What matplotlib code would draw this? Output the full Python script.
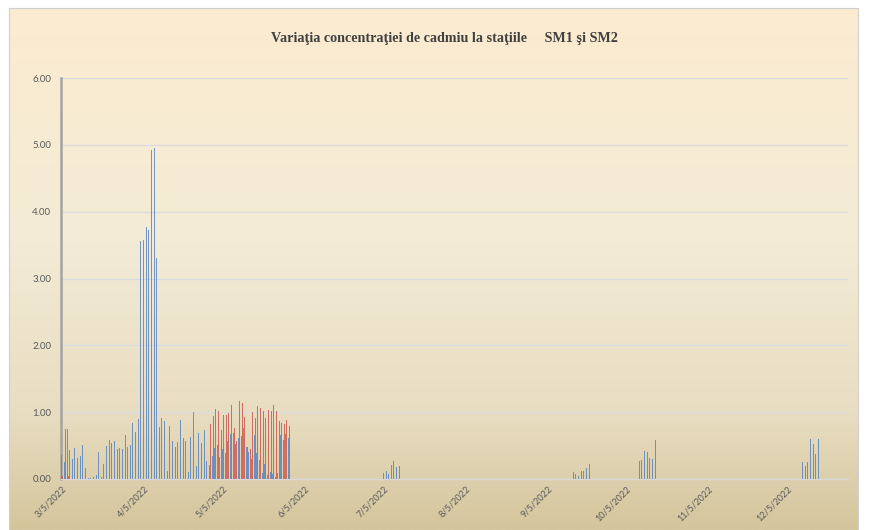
import numpy as np
import pandas as pd
import matplotlib
matplotlib.use('Agg')
import matplotlib.pyplot as plt
import matplotlib.dates as mdates
from matplotlib.ticker import FuncFormatter

TITLE = 'Variaţia concentraţiei de cadmiu la staţiile     SM1 şi SM2'

# SM1 (albastru) - valori zilnice
SM1_SPRING_START = '2022-03-05'
SM1_SPRING = [0.36, 0.26, 0.75, 0.44, 0.30, 0.46, 0.31, 0.345, 0.51, 0.16,
              0.01, 0.01, 0.035, 0.055, 0.41, 0.025, 0.22, 0.50, 0.585, 0.545,
              0.57, 0.45, 0.47, 0.45, 0.66, 0.48, 0.51, 0.835, 0.71, 0.90,
              3.565, 3.58, 3.77, 3.73, 4.93, 4.95, 3.30,
              0.775, 0.91, 0.875, 0.125, 0.80, 0.575, 0.475, 0.55, 0.885, 0.61,
              0.57, 0.11, 0.625, 1.00, 0.20, 0.685, 0.545, 0.735, 0.27, 0.21,
              0.345, 0.46, 0.51,
              0.335, 0.45, 0.385, 0.575, 0.67, 0.695, 0.52, 0.62, 0.645, 0.76,
              0.485, 0.40, 0.295, 0.66, 0.385, 0.285, 0.095, 0.22, 0.06, 0.11,
              0.075, 0.035, 0.085, 0.66, 0.585, 0.67, 0.62]
SM1_JUL_START = '2022-07-05'
SM1_JUL = [0.09, 0.12, 0.075, 0.21, 0.27, 0.185, 0.195]
SM1_SEP_START = '2022-09-15'
SM1_SEP = [0.11, 0.075, 0.045, 0.125, 0.125, 0.17, 0.225]
SM1_OCT_START = '2022-10-10'
SM1_OCT = [0.27, 0.285, 0.42, 0.405, 0.32, 0.30, 0.585]
SM1_DEC_START = '2022-12-11'
SM1_DEC = [0.25, 0.195, 0.26, 0.60, 0.525, 0.37, 0.60]

# SM2 (rosu)
SM2_MAR_START = '2022-03-05'
SM2_MAR = [0.05, 0.75, 0.05]
SM2_MAY_START = '2022-04-30'
SM2_MAY = [0.825, 0.95, 1.05, 1.01,
           0.735, 0.96, 0.96, 0.985, 1.11, 0.76, 0.57, 1.17, 1.135, 0.925,
           0.485, 0.445, 1.0, 0.91, 1.085, 1.06, 1.02, 0.92, 1.035, 1.01,
           1.10, 1.02, 0.87, 0.835, 0.82, 0.88, 0.795]

X_MIN = '2022-03-05'
X_MAX = '2022-12-28'
Y_TICKS = [0, 1, 2, 3, 4, 5, 6]


def daily(start, values):
    days = mdates.date2num(pd.date_range(start, periods=len(values), freq='D'))
    return days, np.array(values)


def gradient_bg(fig):
    stops = [(0.0, (252, 236, 208)), (0.45, (243, 235, 214)),
             (0.78, (232, 221, 193)), (1.0, (212, 197, 156))]
    pos = np.linspace(0, 1, 256)
    cols = np.zeros((256, 1, 3))
    for c in range(3):
        cols[:, 0, c] = np.interp(pos, [s[0] for s in stops], [s[1][c] for s in stops]) / 255
    bg = fig.add_axes([9 / 869, 0, 849 / 869, 522 / 530], zorder=-1)
    bg.imshow(cols, aspect='auto', extent=[0, 1, 0, 1])
    bg.set_xticks([])
    bg.set_yticks([])
    for s in bg.spines.values():
        s.set_color('#d0d0d0')
        s.set_linewidth(0.8)


def main():
    fig = plt.figure(figsize=(8.69, 5.30), dpi=100)
    gradient_bg(fig)

    ax = fig.add_axes([61 / 869, 1 - 479 / 530, (848 - 61) / 869, (479 - 78) / 530])
    ax.set_facecolor('none')

    blue = '#5a86c2'
    red = '#cc5a52'
    w = 0.38
    for start, vals in [(SM1_SPRING_START, SM1_SPRING), (SM1_JUL_START, SM1_JUL),
                        (SM1_SEP_START, SM1_SEP), (SM1_OCT_START, SM1_OCT),
                        (SM1_DEC_START, SM1_DEC)]:
        d, v = daily(start, vals)
        ax.bar(d - 0.2, v, width=w, color=blue, alpha=0.85, linewidth=0, zorder=3)
    for start, vals in [(SM2_MAR_START, SM2_MAR), (SM2_MAY_START, SM2_MAY)]:
        d, v = daily(start, vals)
        ax.bar(d + 0.2, v, width=w, color=red, alpha=0.85, linewidth=0, zorder=3)

    x0 = mdates.date2num(pd.Timestamp(X_MIN)) - 0.5
    x1 = mdates.date2num(pd.Timestamp(X_MAX))
    ax.set_xlim(x0, x1)
    ax.set_ylim(0, 6)

    ax.set_yticks(Y_TICKS)
    ax.yaxis.set_major_formatter(FuncFormatter(lambda v, p: f'{v:.2f}'))
    ax.grid(axis='y', color='#d9dbe3', linewidth=0.9, zorder=0)
    ax.set_axisbelow(True)

    ax.xaxis.set_major_locator(mdates.MonthLocator(bymonthday=5))
    ax.xaxis.set_major_formatter(FuncFormatter(
        lambda v, p: f'{mdates.num2date(v).month}/{mdates.num2date(v).day}/{mdates.num2date(v).year}'))

    ax.tick_params(axis='both', length=0, labelcolor='#595959')
    ax.tick_params(axis='y', pad=7, labelsize=7)
    ax.tick_params(axis='x', pad=4, labelsize=6.6)
    for lbl in ax.get_xticklabels():
        lbl.set_rotation(45)
        lbl.set_ha('right')
        lbl.set_rotation_mode('anchor')
        lbl.set_fontfamily('Lato')
    for lbl in ax.get_yticklabels():
        lbl.set_fontfamily('Lato')

    for side in ['top', 'right']:
        ax.spines[side].set_visible(False)
    ax.spines['left'].set_color('#a3a3a3')
    ax.spines['left'].set_linewidth(1.8)
    ax.spines['bottom'].set_color('#d9d9d9')
    ax.spines['bottom'].set_linewidth(1.0)

    fig.text(0.512, 0.927, TITLE, ha='center', va='center', fontsize=10.2,
             fontweight='bold', family='Liberation Serif', color='#404040')

    fig.savefig('out.png', dpi=100)


if __name__ == "__main__":
    main()
